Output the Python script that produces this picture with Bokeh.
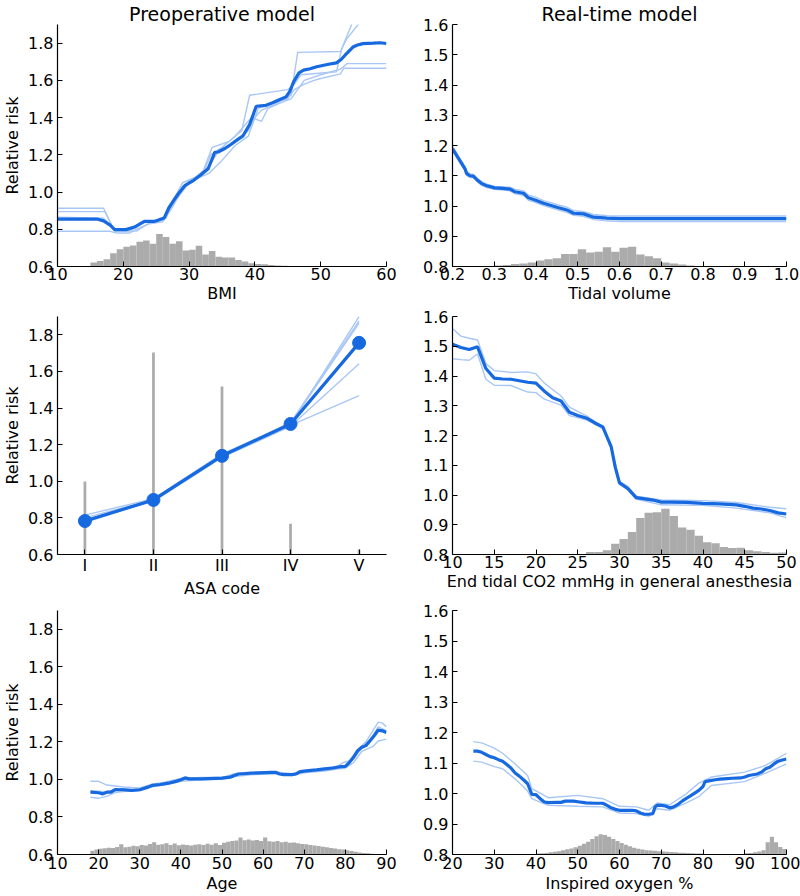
from bokeh.plotting import figure
from bokeh.layouts import column, row
from bokeh.models import Range1d, FixedTicker, PrintfTickFormatter
from bokeh.embed import file_html
from bokeh.resources import INLINE

# ---------------- data ----------------
# Panel 1: BMI (preoperative)
bmi_x = [10, 16, 17, 18, 18.7, 20.4, 21.7, 23.2, 24.7, 26.2, 26.9, 27.7, 28.4, 29.4, 30.7, 31.7, 32.9,
         33.9, 34.4, 35.5, 36.4, 37.3, 38.2, 39.2, 40.2, 41.7, 42.7, 43.7, 44.7, 45.3, 45.9, 46.7, 47.4,
         48.4, 49.4, 51, 52.4, 53.1, 53.7, 54.9, 55.6, 56.4, 58, 59, 60]
bmi_rr = [0.855, 0.855, 0.845, 0.822, 0.798, 0.798, 0.812, 0.842, 0.842, 0.86, 0.913, 0.957, 0.992, 1.036,
          1.063, 1.09, 1.125, 1.213, 1.215, 1.235, 1.257, 1.28, 1.302, 1.363, 1.461, 1.466, 1.48, 1.496,
          1.51, 1.54, 1.593, 1.64, 1.655, 1.662, 1.673, 1.685, 1.694, 1.712, 1.735, 1.779, 1.79, 1.797,
          1.80, 1.802, 1.798]
bmi_b1_x = [10, 17, 18.5, 21, 23, 26, 27, 28.5, 30, 32, 33.5, 36, 38, 39.2, 45, 46, 47, 52.4, 53.2, 54.7, 55.2]
bmi_b1_y = [0.913, 0.913, 0.80, 0.79, 0.835, 0.85, 0.93, 1.0, 1.06, 1.10, 1.24, 1.27, 1.33, 1.52, 1.55,
            1.58, 1.63, 1.646, 1.77, 1.90, 1.98]
bmi_b2_x = [10, 17.2, 18.7, 22, 24, 26.5, 27.5, 29, 31, 33, 34.5, 37, 39, 40, 41, 43, 45.5, 46.5, 53,
            53.9, 55.7, 56.2]
bmi_b2_y = [0.895, 0.895, 0.79, 0.79, 0.835, 0.86, 0.95, 1.05, 1.08, 1.14, 1.22, 1.27, 1.33, 1.40, 1.44,
            1.47, 1.52, 1.75, 1.755, 1.82, 1.90, 1.98]
bmi_b3_x = [10, 17, 18.5, 21, 23, 26, 27, 28.5, 30, 32, 33.3, 35, 37, 39.5, 41, 42, 44, 45.5, 47.5, 50,
            53, 54, 60]
bmi_b3_y = [0.865, 0.86, 0.80, 0.80, 0.84, 0.845, 0.90, 0.98, 1.05, 1.09, 1.20, 1.24, 1.30, 1.40, 1.38,
            1.45, 1.48, 1.50, 1.60, 1.63, 1.66, 1.69, 1.69]
bmi_b4_x = [10, 18, 19, 21, 22, 24, 26, 27.5, 29, 31, 33, 35, 37, 39, 40.5, 43, 45, 46, 47.5, 49, 50,
            53, 53.5, 60]
bmi_b4_y = [0.789, 0.789, 0.78, 0.78, 0.80, 0.83, 0.84, 0.92, 1.03, 1.07, 1.10, 1.17, 1.25, 1.30, 1.45,
            1.48, 1.50, 1.55, 1.58, 1.60, 1.61, 1.635, 1.665, 1.665]
bmi_bin_left = [15, 16, 17, 18, 19, 20, 21, 22, 23, 24, 25, 26, 27, 28, 29, 30, 31, 32, 33, 34, 35, 36,
                37, 38, 39, 40, 41, 42, 43, 44, 45, 46, 47, 48, 49]
bmi_hist = [0.621, 0.630, 0.639, 0.671, 0.692, 0.706, 0.713, 0.733, 0.740, 0.722, 0.775, 0.758, 0.722,
            0.736, 0.686, 0.690, 0.711, 0.665, 0.683, 0.653, 0.648, 0.648, 0.635, 0.627, 0.618, 0.613,
            0.612, 0.608, 0.605, 0.604, 0.603, 0.602, 0.602, 0.601, 0.601]

# Panel 2: Tidal volume (real-time)
tv_x = [0.200, 0.210, 0.220, 0.230, 0.234, 0.242, 0.250, 0.260, 0.270, 0.282, 0.301, 0.322, 0.338,
        0.350, 0.370, 0.382, 0.398, 0.418, 0.450, 0.474, 0.490, 0.514, 0.538, 0.570, 0.602, 1.0]
tv_rr = [1.189, 1.167, 1.145, 1.123, 1.107, 1.100, 1.099, 1.085, 1.074, 1.067, 1.060, 1.058, 1.056,
         1.047, 1.042, 1.027, 1.020, 1.009, 0.996, 0.987, 0.976, 0.974, 0.963, 0.960, 0.958, 0.958]
tv_hi = [1.198, 1.176, 1.152, 1.130, 1.114, 1.106, 1.104, 1.091, 1.080, 1.072, 1.065, 1.063, 1.062,
         1.055, 1.050, 1.036, 1.030, 1.018, 1.005, 0.996, 0.985, 0.981, 0.972, 0.968, 0.967, 0.967]
tv_lo = [1.182, 1.160, 1.138, 1.116, 1.101, 1.094, 1.093, 1.079, 1.068, 1.061, 1.055, 1.053, 1.050,
         1.040, 1.035, 1.019, 1.012, 1.001, 0.988, 0.979, 0.969, 0.966, 0.955, 0.951, 0.949, 0.949]
tv_bin_left = [0.20, 0.22, 0.24, 0.26, 0.28, 0.30, 0.32, 0.34, 0.36, 0.38, 0.40, 0.42, 0.44, 0.46, 0.48,
               0.50, 0.52, 0.54, 0.56, 0.58, 0.60, 0.62, 0.64, 0.66, 0.68, 0.70, 0.72, 0.74, 0.76, 0.78]
tv_hist = [0.800, 0.800, 0.801, 0.801, 0.802, 0.803, 0.805, 0.808, 0.810, 0.813, 0.820, 0.824, 0.827,
           0.841, 0.841, 0.857, 0.846, 0.849, 0.864, 0.849, 0.862, 0.865, 0.840, 0.834, 0.827, 0.813,
           0.810, 0.807, 0.803, 0.801]

# Panel 3: ASA code (preoperative)
asa_pos = [1, 2, 3, 4, 5]
asa_labels = ["I", "II", "III", "IV", "V"]
asa_rr = [0.783, 0.898, 1.139, 1.313, 1.756]
asa_b1 = [0.775, 0.895, 1.135, 1.305, 1.468]
asa_b2 = [0.790, 0.890, 1.130, 1.300, 1.642]
asa_b3 = [0.800, 0.900, 1.140, 1.315, 1.864]
asa_b4 = [0.785, 0.895, 1.145, 1.320, 1.876]
asa_b5 = [0.815, 0.905, 1.150, 1.310, 1.899]
asa_hist = [0.999, 1.704, 1.518, 0.768, 0.627]

# Panel 4: End tidal CO2 (real-time)
co2_x = [10, 11, 12, 13, 14, 15, 16, 17, 18, 19, 20, 21, 22, 23, 24, 25, 26, 27, 28, 29, 29.5, 30, 31,
         32, 33, 34, 35, 36, 38, 40, 42, 44, 45, 46, 47, 48, 49, 50]
co2_rr = [1.507, 1.496, 1.489, 1.498, 1.425, 1.393, 1.390, 1.389, 1.384, 1.379, 1.376, 1.349, 1.327,
          1.316, 1.278, 1.267, 1.259, 1.243, 1.229, 1.163, 1.092, 1.041, 1.022, 0.991, 0.987, 0.983,
          0.976, 0.976, 0.975, 0.972, 0.970, 0.967, 0.962, 0.956, 0.953, 0.948, 0.940, 0.936]
co2_bx = [10, 11, 12, 13, 14, 15, 17, 19, 20, 21, 23, 24, 26, 28, 29, 30, 31, 32, 35, 40, 44, 48, 50]
co2_hi = [1.560, 1.534, 1.527, 1.521, 1.442, 1.418, 1.412, 1.414, 1.407, 1.376, 1.333, 1.295, 1.267,
          1.229, 1.165, 1.046, 1.029, 0.996, 0.983, 0.981, 0.975, 0.959, 0.954]
co2_lo = [1.458, 1.455, 1.453, 1.474, 1.389, 1.369, 1.368, 1.346, 1.344, 1.322, 1.302, 1.267, 1.253,
          1.223, 1.158, 1.036, 1.016, 0.986, 0.967, 0.965, 0.956, 0.940, 0.923]
co2_bin_left = [22, 23, 24, 25, 26, 27, 28, 29, 30, 31, 32, 33, 34, 35, 36, 37, 38, 39, 40, 41, 42, 43,
                44, 45, 46, 47, 48, 49]
co2_hist = [0.800, 0.801, 0.801, 0.802, 0.808, 0.808, 0.814, 0.836, 0.852, 0.876, 0.923, 0.940, 0.942,
            0.954, 0.929, 0.891, 0.883, 0.863, 0.841, 0.838, 0.825, 0.822, 0.823, 0.814, 0.811, 0.808,
            0.806, 0.807]

# Panel 5: Age (preoperative)
age_x = [18, 20, 21, 22, 23, 24, 26, 28, 30, 32, 33, 35, 37, 39, 40, 41, 42, 45, 50, 52, 53, 54, 57, 62,
         63, 64, 65, 67, 68, 69, 71, 73, 75, 77, 78, 79, 80, 81, 82, 83, 84, 85, 86, 87, 88, 89, 90]
age_rr = [0.932, 0.929, 0.923, 0.932, 0.932, 0.946, 0.945, 0.941, 0.945, 0.959, 0.968, 0.973, 0.980,
          0.991, 0.998, 1.008, 1.003, 1.003, 1.007, 1.012, 1.021, 1.029, 1.033, 1.038, 1.038, 1.029,
          1.026, 1.026, 1.029, 1.042, 1.047, 1.051, 1.056, 1.061, 1.065, 1.068, 1.070, 1.091, 1.118,
          1.153, 1.171, 1.180, 1.206, 1.233, 1.263, 1.259, 1.250]
age_b1_x = [18, 20, 22, 24, 26, 30, 33, 36, 40, 45, 50, 53, 57, 63, 67, 70, 75, 78, 79.5, 81, 83, 85, 87,
            88, 89, 90]
age_b1_y = [0.99, 0.99, 0.97, 0.965, 0.96, 0.955, 0.975, 0.985, 1.005, 1.01, 1.01, 1.03, 1.04, 1.04, 1.03,
            1.045, 1.06, 1.07, 1.09, 1.10, 1.16, 1.20, 1.27, 1.305, 1.30, 1.28]
age_b2_x = [18, 20, 22, 24, 26, 30, 33, 36, 40, 45, 50, 53, 57, 63, 67, 70, 75, 78, 80, 82, 84, 86.7,
            88, 90]
age_b2_y = [0.905, 0.90, 0.91, 0.93, 0.935, 0.94, 0.96, 0.97, 0.99, 0.998, 1.0, 1.015, 1.025, 1.03, 1.02,
            1.035, 1.045, 1.055, 1.06, 1.09, 1.15, 1.176, 1.205, 1.215]
age_b3_x = [18, 22, 26, 30, 35, 40, 50, 55, 62, 66, 70, 76, 80, 82, 84, 86, 88, 90]
age_b3_y = [0.94, 0.935, 0.95, 0.948, 0.978, 1.0, 1.008, 1.03, 1.035, 1.025, 1.04, 1.055, 1.075, 1.11,
            1.17, 1.21, 1.28, 1.26]
age_bin_left = list(range(18, 90))
age_hist = [0.620, 0.626, 0.630, 0.633, 0.636, 0.634, 0.640, 0.655, 0.638, 0.641, 0.646, 0.644, 0.650,
            0.648, 0.656, 0.665, 0.652, 0.655, 0.660, 0.651, 0.658, 0.649, 0.653, 0.650, 0.648, 0.652,
            0.655, 0.650, 0.657, 0.652, 0.660, 0.650, 0.662, 0.668, 0.672, 0.675, 0.690, 0.676, 0.680,
            0.674, 0.677, 0.672, 0.690, 0.670, 0.668, 0.672, 0.665, 0.668, 0.663, 0.664, 0.660, 0.656,
            0.654, 0.650, 0.648, 0.645, 0.641, 0.639, 0.635, 0.632, 0.628, 0.627, 0.622, 0.619, 0.615,
            0.611, 0.608, 0.606, 0.604, 0.603, 0.602, 0.601]

# Panel 6: Inspired oxygen % (real-time)
o2_x = [25, 26, 27, 28, 29, 30, 31, 32, 33, 34, 35, 36, 37, 38, 39, 40, 41, 42, 43, 45, 46, 47, 49, 50,
        52, 54, 56, 57, 58, 59, 60, 61, 62, 63, 64, 65, 66, 67, 68, 68.5, 69, 70, 71, 72, 73, 74, 75, 76,
        77, 78, 79, 80, 80.5, 82, 83, 84, 85, 87, 89, 90, 91, 93, 94, 95, 96, 97, 98, 99, 100]
o2_rr = [1.139, 1.139, 1.135, 1.128, 1.121, 1.117, 1.111, 1.106, 1.095, 1.084, 1.067, 1.057, 1.045,
         1.032, 0.997, 0.996, 0.983, 0.972, 0.970, 0.971, 0.971, 0.975, 0.975, 0.973, 0.969, 0.968,
         0.968, 0.961, 0.953, 0.948, 0.945, 0.945, 0.945, 0.945, 0.943, 0.936, 0.932, 0.932, 0.934,
         0.956, 0.961, 0.961, 0.959, 0.953, 0.956, 0.964, 0.975, 0.984, 0.992, 1.001, 1.010, 1.023,
         1.039, 1.043, 1.045, 1.047, 1.048, 1.050, 1.051, 1.054, 1.059, 1.064, 1.070, 1.081, 1.086,
         1.097, 1.106, 1.110, 1.113]
o2_bx = [25, 27, 30, 32, 35, 38, 39, 41, 43, 50, 56, 60, 64, 67, 69, 72, 76, 79, 82, 90, 95, 100]
o2_hi = [1.170, 1.166, 1.149, 1.132, 1.097, 1.059, 1.016, 1.001, 0.986, 0.994, 0.983, 0.958, 0.956,
         0.945, 0.969, 0.963, 0.999, 1.034, 1.054, 1.070, 1.092, 1.132]
o2_lo = [1.106, 1.103, 1.088, 1.081, 1.048, 1.008, 0.983, 0.972, 0.961, 0.958, 0.956, 0.936, 0.934,
         0.925, 0.950, 0.945, 0.969, 0.990, 1.026, 1.039, 1.067, 1.097]
o2_bin_left = list(range(38, 100))
o2_hist = [0.801, 0.802, 0.803, 0.804, 0.805, 0.807, 0.809, 0.811, 0.814, 0.817, 0.820, 0.824, 0.829,
           0.835, 0.842, 0.851, 0.860, 0.866, 0.864, 0.858, 0.851, 0.844, 0.838, 0.832, 0.827, 0.822,
           0.819, 0.816, 0.814, 0.813, 0.812, 0.811, 0.810, 0.809, 0.808, 0.807, 0.806, 0.806, 0.805,
           0.804, 0.803, 0.803, 0.802, 0.802, 0.801, 0.801, 0.801, 0.801, 0.801, 0.801, 0.802, 0.802,
           0.804, 0.805, 0.807, 0.810, 0.814, 0.840, 0.858, 0.840, 0.825, 0.818]

# ticks and titles
left_yticks = [0.6, 0.8, 1.0, 1.2, 1.4, 1.6, 1.8]
right_yticks = [0.8, 0.9, 1.0, 1.1, 1.2, 1.3, 1.4, 1.5, 1.6]
bmi_ticks = [10, 20, 30, 40, 50, 60]
tv_ticks = [0.2, 0.3, 0.4, 0.5, 0.6, 0.7, 0.8, 0.9, 1.0]
co2_ticks = [10, 15, 20, 25, 30, 35, 40, 45, 50]
age_ticks = [10, 20, 30, 40, 50, 60, 70, 80, 90]
o2_ticks = [20, 30, 40, 50, 60, 70, 80, 90, 100]
column_titles = ["Preoperative model", "Real-time model"]

# ---------------- styling ----------------
BLUE = "#1769e0"
LIGHT = "#a9c7f5"
GRAY = "#ababab"
FONT = "DejaVu Sans"


def make(xr, yr, xticks, yticks, xlabel, ylabel, height, top, bottom, xfmt=None, title=None):
    p = figure(width=400, height=height, x_range=Range1d(*xr), y_range=Range1d(*yr),
               output_backend="svg", toolbar_location=None,
               min_border_left=52, min_border_right=14,
               min_border_top=top, min_border_bottom=bottom)
    if title:
        p.title.text = title
        p.title.align = "center"
        p.title.text_font = FONT
        p.title.text_font_size = "19px"
        p.title.text_font_style = "normal"
        p.title.text_color = "black"
        p.title.text_line_height = 0.8
        p.title.standoff = 0
    p.grid.visible = False
    p.outline_line_color = None
    p.background_fill_color = "white"
    p.border_fill_color = "white"
    p.xaxis.ticker = FixedTicker(ticks=xticks)
    p.yaxis.ticker = FixedTicker(ticks=yticks)
    p.yaxis.formatter = PrintfTickFormatter(format="%.1f")
    if xfmt:
        p.xaxis.formatter = PrintfTickFormatter(format=xfmt)
    for ax in (p.xaxis[0], p.yaxis[0]):
        ax.major_tick_in = 5
        ax.major_tick_out = 0
        ax.minor_tick_line_color = None
        ax.axis_line_color = "black"
        ax.axis_line_width = 1.2
        ax.major_tick_line_color = "black"
        ax.major_label_text_font = FONT
        ax.major_label_text_font_size = "16px"
        ax.major_label_text_color = "black"
        ax.axis_label_text_font = FONT
        ax.axis_label_text_font_size = "16px"
        ax.axis_label_text_font_style = "normal"
        ax.axis_label_text_color = "black"
    p.xaxis.major_label_standoff = 1
    p.yaxis.major_label_standoff = 4
    p.xaxis.axis_label_standoff = 1
    p.yaxis.axis_label_standoff = 3
    p.xaxis.axis_label = xlabel
    if ylabel:
        p.yaxis.axis_label = ylabel
    return p


def hist(p, left, tops, w, base):
    p.quad(left=left, right=[v + w for v in left], bottom=base, top=tops,
           fill_color=GRAY, line_color=None)


def light(p, x, y):
    p.line(x, y, line_color=LIGHT, line_width=1.4)


def main(p, x, y):
    p.line(x, y, line_color=BLUE, line_width=3.2)


# Row 1 (height 306: top 21, frame 245, bottom 40)
p1 = make((10, 60), (0.6, 1.9), bmi_ticks, left_yticks, "BMI", "Relative risk", 306, 21, 40,
          title=column_titles[0])
hist(p1, bmi_bin_left, bmi_hist, 1, 0.6)
for bx, by in [(bmi_b1_x, bmi_b1_y), (bmi_b2_x, bmi_b2_y), (bmi_b3_x, bmi_b3_y), (bmi_b4_x, bmi_b4_y)]:
    light(p1, bx, by)
main(p1, bmi_x, bmi_rr)

p2 = make((0.2, 1.0), (0.8, 1.6), tv_ticks, right_yticks, "Tidal volume", None, 306, 21, 40,
          xfmt="%.1f", title=column_titles[1])
hist(p2, tv_bin_left, tv_hist, 0.02, 0.8)
light(p2, tv_x, tv_hi)
light(p2, tv_x, tv_lo)
main(p2, tv_x, tv_rr)

# Row 2 (height 294: top 10, frame 244, bottom 40)
p3 = make((0.6, 5.4), (0.6, 1.9), asa_pos, left_yticks, "ASA code", "Relative risk", 294, 10, 40)
p3.xaxis.major_label_overrides = {pos: lab for pos, lab in zip(asa_pos, asa_labels)}
p3.vbar(x=asa_pos, top=asa_hist, bottom=0.6, width=0.04, fill_color=GRAY, line_color=None)
for b in (asa_b1, asa_b2, asa_b3, asa_b4, asa_b5):
    light(p3, asa_pos, b)
main(p3, asa_pos, asa_rr)
p3.scatter(asa_pos, asa_rr, size=13, fill_color=BLUE, line_color=BLUE)

p4 = make((10, 50), (0.8, 1.6), co2_ticks, right_yticks, "End tidal CO2 mmHg in general anesthesia",
          None, 294, 10, 40)
hist(p4, co2_bin_left, co2_hist, 1, 0.8)
light(p4, co2_bx, co2_hi)
light(p4, co2_bx, co2_lo)
main(p4, co2_x, co2_rr)

# Row 3 (height 296: top 10, frame 244, bottom 42)
p5 = make((10, 90), (0.6, 1.9), age_ticks, left_yticks, "Age", "Relative risk", 296, 10, 42)
hist(p5, age_bin_left, age_hist, 1, 0.6)
for bx, by in [(age_b1_x, age_b1_y), (age_b2_x, age_b2_y), (age_b3_x, age_b3_y)]:
    light(p5, bx, by)
main(p5, age_x, age_rr)

p6 = make((20, 100), (0.8, 1.6), o2_ticks, right_yticks, "Inspired oxygen %", None, 296, 10, 42)
hist(p6, o2_bin_left, o2_hist, 1, 0.8)
light(p6, o2_bx, o2_hi)
light(p6, o2_bx, o2_lo)
main(p6, o2_x, o2_rr)

for p in (p5, p6):
    p.xaxis.major_label_standoff = 2
    p.xaxis.axis_label_standoff = 2

layout = column(row(p1, p2), row(p3, p4), row(p5, p6))

open("out.html", "w").write(file_html(layout, INLINE))
